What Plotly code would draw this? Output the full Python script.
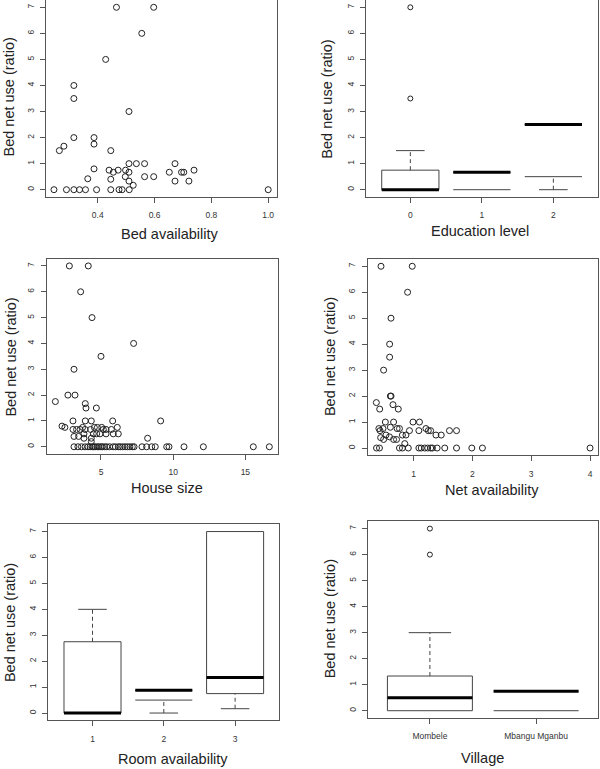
import plotly.graph_objects as go

# ---------------- data ----------------
# Panel 1: Bed availability vs bed net use
bed_avail_x = [0.246, 0.29, 0.316, 0.336, 0.357, 0.396, 0.446, 0.475, 0.486, 0.511, 1.0,
               0.265, 0.281, 0.316, 0.316, 0.316, 0.387, 0.387, 0.387, 0.365, 0.446, 0.428,
               0.466, 0.597, 0.555, 0.51, 0.44, 0.455, 0.472, 0.446, 0.498, 0.51, 0.536,
               0.565, 0.51, 0.497, 0.51, 0.525, 0.565, 0.597, 0.652, 0.672, 0.672, 0.695,
               0.703, 0.721, 0.739]
bed_avail_y = [0, 0, 0, 0, 0, 0, 0, 0, 0, 0, 0,
               1.5, 1.67, 2.0, 3.5, 4.0, 2.0, 1.75, 0.8, 0.42, 1.5, 5.0,
               7.0, 7.0, 6.0, 3.0, 0.75, 0.67, 0.75, 0.4, 0.75, 1.0, 1.0,
               1.0, 0.67, 0.5, 0.33, 0.17, 0.5, 0.5, 0.67, 1.0, 0.33, 0.67,
               0.67, 0.33, 0.75]

# Panel 2: Education level (box summary)
edu_cats = ["0", "1", "2"]
edu_lower = [0, 0, 0]
edu_q1 = [0, 0, 0.5]
edu_median = [0, 0.667, 2.5]
edu_q3 = [0.75, 0.667, 2.5]
edu_upper = [1.5, 0.667, 2.5]
edu_outliers = [[3.5, 7.0], [], []]

# Panel 3: House size
house_x = [2.81, 4.12, 3.59, 4.38, 7.26, 5.0, 3.13, 2.71, 3.2, 1.84, 3.91, 3.96, 4.68,
           3.06, 3.91, 4.33, 5.81, 9.13, 2.3, 2.5, 8.23,
           3.06, 3.31, 3.55, 3.73, 3.9, 4.28, 4.54, 4.75, 5.05, 5.16, 5.35, 5.72, 6.13,
           3.82, 4.47, 4.70, 4.93, 5.35, 5.85, 6.2,
           3.13, 3.45, 3.82, 4.33, 4.33,
           3.13, 3.4, 3.65, 3.9, 4.1, 4.25, 4.4, 4.5, 4.6, 4.75, 4.85, 5.0, 5.1, 5.25,
           5.4, 5.6, 5.85, 6.0, 6.2, 6.33, 6.5, 6.67, 6.83, 7.0, 7.17, 7.29, 7.84, 8.16,
           8.51, 8.76, 9.55, 9.71, 10.75, 12.09, 15.55, 16.66]
house_y = [7, 7, 6, 5, 4, 3.5, 3, 2, 2, 1.75, 1.67, 1.5, 1.5,
           1, 1, 1, 1, 1, 0.8, 0.75, 0.33,
           0.67, 0.67, 0.67, 0.75, 0.67, 0.67, 0.75, 0.75, 0.75, 0.67, 0.67, 0.67, 0.75,
           0.5, 0.5, 0.5, 0.5, 0.5, 0.5, 0.5,
           0.4, 0.4, 0.33, 0.33, 0.2,
           0, 0, 0, 0, 0, 0, 0, 0, 0, 0, 0, 0, 0, 0,
           0, 0, 0, 0, 0, 0, 0, 0, 0, 0, 0, 0, 0, 0,
           0, 0, 0, 0, 0, 0, 0, 0]

# Panel 4: Net availability
net_x = [0.446, 0.977, 0.898, 0.616, 0.593, 0.593, 0.49, 0.605, 0.617, 0.367, 0.424,
         0.65, 0.74, 0.52, 0.66, 0.99, 1.10, 0.41, 0.48, 0.605, 0.72, 0.76, 0.93, 1.09,
         1.21, 1.25, 1.29, 1.38, 1.47, 1.61, 1.73, 0.81, 0.87, 0.85,
         0.43, 0.44, 0.49, 0.53, 0.59, 0.66, 0.71,
         0.37, 0.42, 0.76, 0.81, 0.91, 1.09, 1.13, 1.19, 1.24, 1.29, 1.32, 1.40, 1.53,
         1.73, 1.99, 2.17, 4.0]
net_y = [7, 7, 6, 5, 4, 3.5, 3, 2, 2, 1.75, 1.5,
         1.67, 1.5, 1, 1, 1, 1, 0.75, 0.75, 0.8, 0.75, 0.75, 0.67, 0.67,
         0.75, 0.67, 0.67, 0.5, 0.5, 0.67, 0.67, 0.5, 0.5, 0.17,
         0.67, 0.4, 0.33, 0.5, 0.43, 0.33, 0.33,
         0, 0, 0, 0, 0, 0, 0, 0, 0, 0, 0, 0, 0,
         0, 0, 0, 0]

# Panel 5: Room availability (box summary)
room_cats = ["1", "2", "3"]
room_lower = [0, 0, 0.167]
room_q1 = [0, 0.5, 0.75]
room_median = [0, 0.875, 1.375]
room_q3 = [2.75, 0.875, 7.0]
room_upper = [4.0, 0.875, 7.0]
room_outliers = [[], [], []]

# Panel 6: Village (box summary)
village_cats = ["Mombele", "Mbangu Mganbu"]
village_lower = [0, 0]
village_q1 = [0, 0]
village_median = [0.5, 0.75]
village_q3 = [1.333, 0.75]
village_upper = [3.0, 0.75]
village_outliers = [[6.0, 7.0], []]

y_ticks = [0, 1, 2, 3, 4, 5, 6, 7]
y_title = "Bed net use (ratio)"

# ---------------- styling / layout ----------------
W, H = 600, 769
FONT = "Liberation Sans, Arial, Helvetica, sans-serif"
AX = "#555555"
TXT = "#222222"
PT = "#222222"

def px(xp):
    return xp / W

def py(yp):
    return 1 - yp / H

fig = go.Figure()

# panel boxes in pixel coords: (left, right, top, bottom)
boxes = {
    1: (46, 277, 0, 197),
    2: (366, 597.7, 0, 197),
    3: (46.7, 278, 258.7, 454),
    4: (367.7, 597.7, 259, 455.3),
    5: (48.3, 279.3, 524.3, 720.3),
    6: (368.3, 597.7, 521.3, 718),
}

def axis_names(n):
    return ("x" if n == 1 else f"x{n}", "y" if n == 1 else f"y{n}")

def add_axes(n, xrange, tickvals, ticktext):
    l, r, t, b = boxes[n]
    xa = dict(domain=[px(l), px(r)], range=xrange, tickvals=tickvals, ticktext=ticktext,
              ticks="outside", ticklen=5, tickcolor=AX, showline=True, mirror=True,
              linecolor=AX, linewidth=1, showgrid=False, zeroline=False,
              tickfont=dict(family=FONT, size=8.5, color="#333333"),
              anchor=axis_names(n)[1], ticklabelstandoff=5)
    ya = dict(domain=[py(b), py(t)], range=[-0.28, 7.28], tickvals=y_ticks,
              ticktext=[str(v) for v in y_ticks], tickangle=-90,
              ticks="outside", ticklen=5, tickcolor=AX, showline=True, mirror=True,
              linecolor=AX, linewidth=1, showgrid=False, zeroline=False,
              tickfont=dict(family=FONT, size=8.5, color="#333333"),
              anchor=axis_names(n)[0], ticklabelstandoff=3)
    key_x = "xaxis" if n == 1 else f"xaxis{n}"
    key_y = "yaxis" if n == 1 else f"yaxis{n}"
    fig.update_layout({key_x: xa, key_y: ya})

def add_scatter(n, xs, ys):
    xa, ya = axis_names(n)
    fig.add_trace(go.Scatter(x=xs, y=ys, mode="markers", xaxis=xa, yaxis=ya,
                             marker=dict(symbol="circle-open", size=6, color=PT,
                                         line=dict(width=1, color=PT)),
                             hoverinfo="skip"))

def add_boxes(n, lower, q1, med, q3, upper, outliers):
    xa, ya = axis_names(n)
    hw, cw = 0.4, 0.2
    outline_x, outline_y = [], []
    dash_x, dash_y = [], []
    med_x, med_y = [], []
    ox, oy = [], []
    for k in range(len(med)):
        outline_x += [k - hw, k + hw, None, k - hw, k + hw, None]
        outline_y += [q1[k], q1[k], None, q3[k], q3[k], None]
        if med[k] < q3[k]:
            outline_x += [k - hw, k - hw, None, k + hw, k + hw, None]
            outline_y += [q1[k], q3[k], None, q1[k], q3[k], None]
        if upper[k] > q3[k]:
            dash_x += [k, k, None]
            dash_y += [q3[k], upper[k], None]
            outline_x += [k - cw, k + cw, None]
            outline_y += [upper[k], upper[k], None]
        if lower[k] < q1[k]:
            dash_x += [k, k, None]
            dash_y += [lower[k], q1[k], None]
            outline_x += [k - cw, k + cw, None]
            outline_y += [lower[k], lower[k], None]
        med_x += [k - hw, k + hw, None]
        med_y += [med[k], med[k], None]
        for v in outliers[k]:
            ox.append(k)
            oy.append(v)
    fig.add_trace(go.Scatter(x=outline_x, y=outline_y, mode="lines", xaxis=xa, yaxis=ya,
                             line=dict(color="#444444", width=1), hoverinfo="skip"))
    fig.add_trace(go.Scatter(x=dash_x, y=dash_y, mode="lines", xaxis=xa, yaxis=ya,
                             line=dict(color="#444444", width=1, dash="4px,3px"),
                             hoverinfo="skip"))
    fig.add_trace(go.Scatter(x=med_x, y=med_y, mode="lines", xaxis=xa, yaxis=ya,
                             line=dict(color="#000000", width=3), hoverinfo="skip"))
    if ox:
        fig.add_trace(go.Scatter(x=ox, y=oy, mode="markers", xaxis=xa, yaxis=ya,
                                 marker=dict(symbol="circle-open", size=5, color=PT,
                                             line=dict(width=1, color=PT)),
                                 hoverinfo="skip"))

# Panel 1
add_axes(1, [0.218, 1.031], [0.4, 0.6, 0.8, 1.0], ["0.4", "0.6", "0.8", "1.0"])
add_scatter(1, bed_avail_x, bed_avail_y)
# Panel 2
add_axes(2, [-0.62, 2.62], list(range(len(edu_cats))), edu_cats)
add_boxes(2, edu_lower, edu_q1, edu_median, edu_q3, edu_upper, edu_outliers)
# Panel 3
add_axes(3, [1.24, 17.26], [5, 10, 15], ["5", "10", "15"])
add_scatter(3, house_x, house_y)
# Panel 4
add_axes(4, [0.22, 4.13], [1, 2, 3, 4], ["1", "2", "3", "4"])
add_scatter(4, net_x, net_y)
# Panel 5
add_axes(5, [-0.62, 2.62], list(range(len(room_cats))), room_cats)
add_boxes(5, room_lower, room_q1, room_median, room_q3, room_upper, room_outliers)
# Panel 6
add_axes(6, [-0.58, 1.58], list(range(len(village_cats))), village_cats)
add_boxes(6, village_lower, village_q1, village_median, village_q3, village_upper, village_outliers)

# axis titles (as annotations, pixel-placed)
x_titles = [
    ("Bed availability", 169, 234),
    ("Education level", 480.3, 230.5),
    ("House size", 166.8, 488.3),
    ("Net availability", 491.8, 490.3),
    ("Room availability", 172.5, 759.3),
    ("Village", 482.7, 757.7),
]
y_title_pos = [(8, 97.5), (327, 99.7), (11.3, 357.3), (329.3, 356.8), (9.3, 622.8), (330.3, 619)]

annotations = []
for text, cx, cy in x_titles:
    annotations.append(dict(text=text, x=px(cx), y=py(cy), xref="paper", yref="paper",
                            xanchor="center", yanchor="middle", showarrow=False,
                            font=dict(family=FONT, size=14.5, color=TXT)))
for cx, cy in y_title_pos:
    annotations.append(dict(text=y_title, x=px(cx), y=py(cy), xref="paper", yref="paper",
                            xanchor="center", yanchor="middle", showarrow=False, textangle=-90,
                            font=dict(family=FONT, size=14.5, color=TXT)))

fig.update_layout(width=W, height=H, margin=dict(l=0, r=0, t=0, b=0),
                  paper_bgcolor="white", plot_bgcolor="white", showlegend=False,
                  annotations=annotations, font=dict(family=FONT))

fig.write_html("out.html", config={"displayModeBar": False},
               post_script="document.body.style.margin='0';document.body.style.overflow='hidden';")
